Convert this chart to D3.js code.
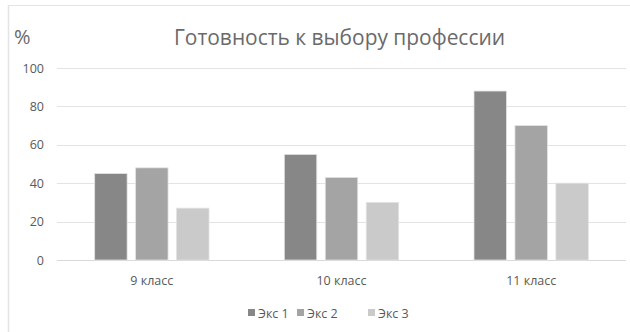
<!DOCTYPE html>
<html>
<head>
<meta charset="utf-8">
<script src="https://cdn.jsdelivr.net/npm/d3@7"></script>
<style>
  html, body { margin: 0; padding: 0; background: #fff; }
  svg { display: block; }
  text { font-family: "Open Sans", "DejaVu Sans", sans-serif; }
</style>
</head>
<body>
<svg id="chart" width="630" height="332"></svg>
<script>
// Chart data
const categories = ["9 класс", "10 класс", "11 класс"];
const seriesNames = ["Экс 1", "Экс 2", "Экс 3"];
const exp1 = [45, 55, 88];
const exp2 = [48, 43, 70];
const exp3 = [27, 30, 40];
const yTicks = [0, 20, 40, 60, 80, 100];
const titleText = "Готовность к выбору профессии";
const unitLabel = "%";

const seriesValues = [exp1, exp2, exp3];
const colors = ["#878787", "#a4a4a4", "#cacaca"];

const svg = d3.select("#chart");
const W = 630, H = 332;
const margin = { left: 57, right: 4, top: 68, bottom: 72 };

svg.append("rect").attr("width", W).attr("height", H).attr("fill", "#fff");

// Chart area frame (top and left edges visible)
svg.append("line").attr("x1", 8).attr("x2", W).attr("y1", 5.5).attr("y2", 5.5)
  .attr("stroke", "#e4e4e4").attr("stroke-width", 1);
svg.append("line").attr("x1", 8.5).attr("x2", 8.5).attr("y1", 5).attr("y2", H)
  .attr("stroke", "#e4e4e4").attr("stroke-width", 1.5);

const x0 = d3.scaleBand()
  .domain(categories)
  .range([margin.left, W - margin.right])
  .paddingInner(0).paddingOuter(0);

const x1 = d3.scaleBand()
  .domain(seriesNames)
  .range([0, x0.bandwidth()])
  .paddingInner(0.208)
  .paddingOuter(0.92);

const y = d3.scaleLinear().domain([0, 100]).range([H - margin.bottom, margin.top]);

// Gridlines
svg.append("g")
  .selectAll("line")
  .data(yTicks)
  .join("line")
  .attr("x1", margin.left)
  .attr("x2", W - margin.right)
  .attr("y1", d => Math.round(y(d)) + 0.5)
  .attr("y2", d => Math.round(y(d)) + 0.5)
  .attr("stroke", d => d === 0 ? "#d9d9d9" : "#e3e3e3")
  .attr("stroke-width", 1.2);

// Y axis labels
const yAxis = d3.axisLeft(y).tickValues(yTicks).tickSize(0).tickPadding(0);
const gy = svg.append("g").attr("transform", `translate(${44},0)`).call(yAxis);
gy.select(".domain").remove();
gy.selectAll("text")
  .attr("fill", "#595959")
  .style("font-size", "12.5px")
  .style("font-family", "'Open Sans', sans-serif");

// Bars
const groups = svg.append("g")
  .selectAll("g")
  .data(categories)
  .join("g")
  .attr("transform", d => `translate(${x0(d)},0)`);

groups.selectAll("rect")
  .data((c, i) => seriesNames.map((s, j) => ({ s, j, v: seriesValues[j][i] })))
  .join("rect")
  .attr("x", d => x1(d.s))
  .attr("width", x1.bandwidth())
  .attr("y", d => y(d.v))
  .attr("height", d => y(0) - y(d.v))
  .attr("fill", d => colors[d.j])
  .attr("stroke", "#e2e2e2")
  .attr("stroke-width", 0.8);

// Category axis labels
const xAxis = d3.axisBottom(x0).tickSize(0).tickPadding(0);
const gx = svg.append("g").attr("transform", `translate(0,${285})`).call(xAxis);
gx.select(".domain").remove();
gx.selectAll("text")
  .attr("dy", 0)
  .attr("fill", "#595959")
  .style("font-size", "12.5px")
  .style("font-family", "'Open Sans', sans-serif");

// Title
svg.append("text")
  .attr("x", 174).attr("y", 45)
  .attr("fill", "#6a6a6a")
  .style("font-size", "21px")
  .attr("textLength", 331)
  .attr("lengthAdjust", "spacingAndGlyphs")
  .text(titleText);

// Unit label
svg.append("text")
  .attr("x", 14).attr("y", 44)
  .attr("fill", "#6a6a6a")
  .style("font-size", "20px")
  .text(unitLabel);

// Legend
const legendX = [248, 297, 368];
const legend = svg.append("g")
  .selectAll("g")
  .data(seriesNames)
  .join("g")
  .attr("transform", (d, i) => `translate(${legendX[i]},${313})`);
legend.append("rect")
  .attr("x", 0).attr("y", -4).attr("width", 7).attr("height", 7)
  .attr("fill", (d, i) => colors[i]);
legend.append("text")
  .attr("x", 10).attr("y", 4.5)
  .attr("fill", "#595959")
  .style("font-size", "12.5px")
  .text(d => d);
</script>
</body>
</html>
